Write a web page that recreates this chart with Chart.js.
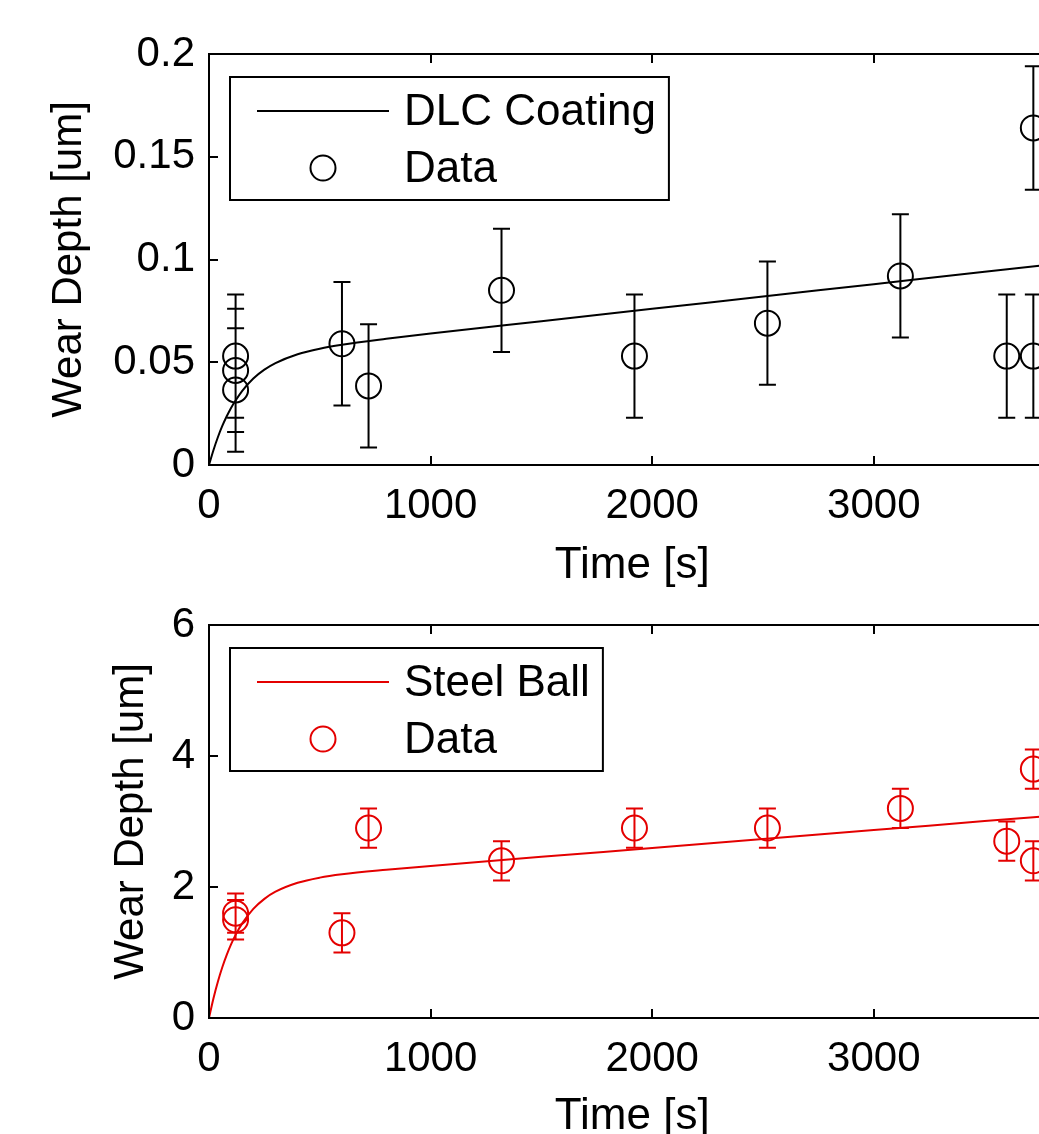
<!DOCTYPE html>
<html>
<head>
<meta charset="utf-8">
<script src="https://cdn.jsdelivr.net/npm/chart.js@4.4.1/dist/chart.umd.min.js"></script>
<style>
  html, body { margin: 0; padding: 0; background: #fff; overflow: hidden; }
  body { width: 1039px; height: 1134px; position: relative; }
  .panel { position: absolute; left: 0; }
  #p1 { top: 0; }
  #p2 { top: 570px; }
</style>
</head>
<body>
<div class="panel" id="p1"><canvas id="c1" width="1070" height="600"></canvas></div>
<div class="panel" id="p2"><canvas id="c2" width="1070" height="573"></canvas></div>
<script>
// ---------- data ----------
// x axis limit lies just beyond the cropped right edge of the picture
const timeMax = 3820;
const timeTicks = [0, 1000, 2000, 3000];
const dlcTicks = [0, 0.05, 0.1, 0.15, 0.2];
const steelTicks = [0, 2, 4, 6];

// fitted curves
const fitTime  = [0, 20, 40, 60, 80, 100, 120, 150, 200, 250, 300, 400, 500, 600, 800, 1000, 1500, 2000, 2500, 3000, 3500, 3820];
const dlcFit   = [0, 0.0072, 0.0135, 0.0190, 0.0237, 0.0279, 0.0314, 0.0361, 0.0421, 0.0464, 0.0496, 0.0539, 0.0566, 0.0585, 0.0614, 0.0640, 0.0700, 0.0760, 0.0820, 0.0880, 0.0940, 0.0978];
const steelFit = [0, 0.299, 0.554, 0.774, 0.964, 1.127, 1.269, 1.444, 1.665, 1.819, 1.928, 2.064, 2.143, 2.194, 2.263, 2.322, 2.460, 2.596, 2.733, 2.869, 3.006, 3.093];

// measured data
const dlcTime  = [120, 120, 120, 600, 720, 1320, 1920, 2520, 3120, 3600, 3720, 3720];
const dlcDepth = [0.053, 0.046, 0.0365, 0.059, 0.0385, 0.085, 0.053, 0.069, 0.092, 0.053, 0.053, 0.164];
const dlcErr   = [0.03, 0.03, 0.03, 0.03, 0.03, 0.03, 0.03, 0.03, 0.03, 0.03, 0.03, 0.03];

const steelTime  = [120, 120, 600, 720, 1320, 1920, 2520, 3120, 3600, 3720, 3720];
const steelDepth = [1.6, 1.5, 1.3, 2.9, 2.4, 2.9, 2.9, 3.2, 2.7, 3.8, 2.4];
const steelErr   = [0.3, 0.3, 0.3, 0.3, 0.3, 0.3, 0.3, 0.3, 0.3, 0.3, 0.3];

const FONT = "'Liberation Sans', Arial, Helvetica, sans-serif";
const RED = 'rgb(228,0,0)';

function pts(xs, ys) { return xs.map((x, i) => ({ x: x, y: ys[i] })); }

// frame with inward ticks on all four sides
const framePlugin = {
  id: 'frame',
  afterDraw(chart) {
    const { ctx, chartArea: a, scales: { x, y } } = chart;
    const L = 9;
    ctx.save();
    ctx.strokeStyle = '#000';
    ctx.lineWidth = 2;
    ctx.beginPath();
    x.ticks.forEach(t => {
      const px = Math.round(x.getPixelForValue(t.value));
      ctx.moveTo(px, a.bottom); ctx.lineTo(px, a.bottom - L);
      ctx.moveTo(px, a.top); ctx.lineTo(px, a.top + L);
    });
    y.ticks.forEach(t => {
      const py = Math.round(y.getPixelForValue(t.value));
      ctx.moveTo(a.left, py); ctx.lineTo(a.left + L, py);
      ctx.moveTo(a.right, py); ctx.lineTo(a.right - L, py);
    });
    ctx.stroke();
    ctx.strokeRect(a.left, a.top, a.right - a.left, a.bottom - a.top);
    ctx.restore();
  }
};

// vertical error bars
const errorPlugin = {
  id: 'errbars',
  afterDatasetsDraw(chart) {
    const { ctx, scales: { x, y } } = chart;
    ctx.save();
    chart.data.datasets.forEach(ds => {
      if (!ds.errors) return;
      ctx.strokeStyle = ds.borderColor;
      ctx.lineWidth = 2;
      ctx.beginPath();
      ds.data.forEach((p, i) => {
        const e = ds.errors[i];
        const px = x.getPixelForValue(p.x);
        const y1 = y.getPixelForValue(p.y + e);
        const y0 = y.getPixelForValue(p.y - e);
        ctx.moveTo(px, y0); ctx.lineTo(px, y1);
        ctx.moveTo(px - 8.5, y1); ctx.lineTo(px + 8.5, y1);
        ctx.moveTo(px - 8.5, y0); ctx.lineTo(px + 8.5, y0);
      });
      ctx.stroke();
    });
    ctx.restore();
  }
};

// boxed legend inside the axes (MATLAB style)
const boxLegendPlugin = {
  id: 'boxLegend',
  afterDraw(chart) {
    const { ctx, chartArea: a } = chart;
    const dss = chart.data.datasets;
    const x0 = a.left + 21, y0 = a.top + 23;
    ctx.save();
    ctx.font = '44px ' + FONT;
    let tw = 0;
    dss.forEach(d => { tw = Math.max(tw, ctx.measureText(d.label).width); });
    const textX = x0 + 174;
    const w = textX - x0 + tw + 13;
    const h = 123;
    ctx.fillStyle = '#fff';
    ctx.fillRect(x0, y0, w, h);
    ctx.strokeStyle = '#000';
    ctx.lineWidth = 2;
    ctx.strokeRect(x0, y0, w, h);
    dss.forEach((d, i) => {
      const cy = y0 + 34 + i * 57;
      ctx.strokeStyle = d.borderColor;
      ctx.lineWidth = 2;
      ctx.beginPath();
      if (d.showLine === false) {
        ctx.arc(x0 + 93, cy, 12.5, 0, Math.PI * 2);
      } else {
        ctx.moveTo(x0 + 27, cy); ctx.lineTo(x0 + 159, cy);
      }
      ctx.stroke();
      ctx.fillStyle = '#000';
      ctx.textBaseline = 'middle';
      ctx.textAlign = 'left';
      ctx.fillText(d.label, textX, cy + 2);
    });
    ctx.restore();
  }
};

function makeChart(canvasId, cfg) {
  return new Chart(document.getElementById(canvasId), {
    type: 'scatter',
    data: {
      datasets: [
        {
          type: 'line',
          label: cfg.fitLabel,
          data: pts(fitTime, cfg.fit),
          borderColor: cfg.color,
          borderWidth: 2,
          pointRadius: 0,
          fill: false,
          cubicInterpolationMode: 'monotone'
        },
        {
          label: 'Data',
          data: pts(cfg.time, cfg.depth),
          errors: cfg.err,
          showLine: false,
          borderColor: cfg.color,
          backgroundColor: 'rgba(0,0,0,0)',
          borderWidth: 2,
          pointRadius: 12.5,
          pointStyle: 'circle'
        }
      ]
    },
    options: {
      responsive: false,
      animation: false,
      events: [],
      layout: { padding: { left: cfg.padLeft, right: 13, top: cfg.padTop, bottom: 0 } },
      plugins: { legend: { display: false }, tooltip: { enabled: false } },
      scales: {
        x: {
          type: 'linear',
          min: 0, max: timeMax,
          afterBuildTicks: s => { s.ticks = timeTicks.map(v => ({ value: v })); },
          afterFit: s => { s.height = cfg.xHeight; },
          grid: { display: false, drawTicks: false },
          border: { display: false },
          ticks: { color: '#000', font: { family: FONT, size: 42 }, padding: 16, maxRotation: 0,
                   callback: v => String(v) },
          title: { display: true, text: 'Time [s]', color: '#000',
                   font: { family: FONT, size: 44 }, padding: { top: 0, bottom: cfg.titlePad } }
        },
        y: {
          type: 'linear',
          min: cfg.yTicks[0], max: cfg.yTicks[cfg.yTicks.length - 1],
          afterBuildTicks: s => { s.ticks = cfg.yTicks.map(v => ({ value: v })); },
          afterFit: s => { s.width = 209 - cfg.padLeft; },
          grid: { display: false, drawTicks: false },
          border: { display: false },
          ticks: { color: '#000', font: { family: FONT, size: 42 }, padding: 14,
                   callback: v => String(v) },
          title: { display: true, text: 'Wear Depth [um]', color: '#000',
                   font: { family: FONT, size: 42 }, padding: 0 }
        }
      }
    },
    plugins: [framePlugin, errorPlugin, boxLegendPlugin]
  });
}

makeChart('c1', {
  fitLabel: 'DLC Coating', fit: dlcFit, time: dlcTime, depth: dlcDepth, err: dlcErr,
  color: '#000', yTicks: dlcTicks, padTop: 54, padLeft: 44, xHeight: 135, titlePad: 8
});
makeChart('c2', {
  fitLabel: 'Steel Ball', fit: steelFit, time: steelTime, depth: steelDepth, err: steelErr,
  color: RED, yTicks: steelTicks, padTop: 55, padLeft: 106, xHeight: 125, titlePad: 0
});
</script>
</body>
</html>
